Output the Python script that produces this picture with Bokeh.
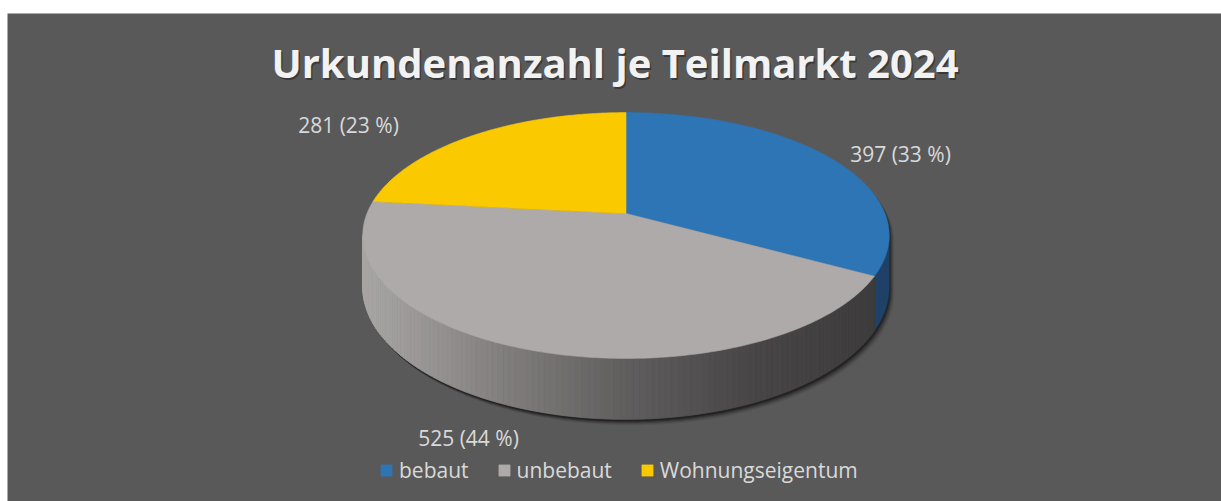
import numpy as np
from bokeh.plotting import figure
from bokeh.models import Range1d, Legend, LegendItem, ColumnDataSource
from bokeh.core.properties import value
from bokeh.embed import file_html
from bokeh.resources import INLINE

# ---------------- data ----------------
title_text = "Urkundenanzahl je Teilmarkt 2024"
categories = ["bebaut", "unbebaut", "Wohnungseigentum"]
counts = [397, 525, 281]

# ---------------- style ----------------
top_colors = ["#2e75b6", "#aeaaaa", "#fbc900"]
blue_side = "#1f4167"
bg = "#595959"
text_col = "#d9d9d9"
FONT = "Open Sans"

# geometry of the 3D pie (screen pixels, y downwards)
CX, CY = 625.5, 213.0   # pie centre on top face
A, B = 259.0, 119.0     # radii
K = -0.179              # perspective factor
DEPTH = 50.0            # thickness

# label anchor positions (screen pixels)
label_pos = [(900, 153), (468, 437), (348, 124)]

# gradient stops for the front wall of the grey slice (x, rgb)
grad_x = [370, 500, 625, 750, 860]
grad_rgb = [(168, 166, 165), (130, 127, 126), (96, 94, 94), (72, 70, 70), (63, 61, 62)]

W, H = 1221, 501
p = figure(width=W, height=H, output_backend="svg", toolbar_location=None,
           x_range=Range1d(7, 1221), y_range=Range1d(501, 13),
           x_axis_location=None, y_axis_location=None,
           background_fill_color=bg, border_fill_color="white",
           min_border_top=13, min_border_left=7, min_border_right=0,
           min_border_bottom=0, outline_line_color=None)
p.grid.visible = False


def top_pt(theta):
    t = np.radians(theta)
    u, v = np.sin(t), -np.cos(t)
    den = 1 + K * v
    return CX + A * u / den, CY + B * v / den


def bot_pt(theta):
    t = np.radians(theta)
    u, v = np.sin(t), -np.cos(t)
    den = 1 + K * v
    return CX + A * u / den, CY + (B * v + DEPTH) / den


total = float(sum(counts))
bounds = np.concatenate([[0.0], np.cumsum(counts) / total * 360.0])
sil1 = np.degrees(np.arccos(K))          # right silhouette (~100 deg)
sil2 = 360.0 - sil1                      # left silhouette (~260 deg)

# ---- shadow ----
th_top = np.linspace(sil2, sil1 + 360.0, 200)
th_bot = np.linspace(sil1, sil2, 200)
sx = np.concatenate([top_pt(th_top)[0], bot_pt(th_bot)[0]])
sy = np.concatenate([top_pt(th_top)[1], bot_pt(th_bot)[1]])
for dx, dy, al in [(5, 6, 0.06), (4, 5, 0.1), (3, 4, 0.15), (2, 3, 0.22), (1, 2, 0.3)]:
    p.patch(sx + dx, sy + dy, fill_color="black", fill_alpha=al, line_color=None)

# ---- side walls ----
# bebaut (blue) visible part
a0, a1 = sil1, bounds[1]
th = np.linspace(a0, a1, 40)
tx, ty = top_pt(th)
bx, by = bot_pt(th[::-1])
p.patch(np.concatenate([tx, bx]), np.concatenate([ty, by]),
        fill_color=blue_side, line_color=blue_side, line_width=0.5)

# unbebaut (grey, gradient)
a0, a1 = bounds[1], sil2
edges = np.linspace(a0, a1, 121)
xs, ys, cols = [], [], []
for i in range(len(edges) - 1):
    t0, t1 = edges[i], edges[i + 1]
    x0t, y0t = top_pt(t0)
    x1t, y1t = top_pt(t1)
    x0b, y0b = bot_pt(t0)
    x1b, y1b = bot_pt(t1)
    xs.append([x0t, x1t, x1b, x0b])
    ys.append([y0t, y1t, y1b, y0b])
    xm = (x0t + x1t) / 2
    rgb = [int(round(np.interp(xm, grad_x, [c[j] for c in grad_rgb]))) for j in range(3)]
    cols.append("#%02x%02x%02x" % tuple(rgb))
p.patches(xs, ys, fill_color=cols, line_color=cols, line_width=0.8)
# thin divider between blue and grey wall
xd0, yd0 = top_pt(bounds[1])
xd1, yd1 = bot_pt(bounds[1])
p.line([xd0, xd1], [yd0, yd1], line_color="#3a3838", line_width=1)

# ---- top faces ----
renderers = []
for i, cat in enumerate(categories):
    th = np.linspace(bounds[i], bounds[i + 1], 150)
    ax, ay = top_pt(th)
    r = p.patch(np.concatenate([[CX], ax]), np.concatenate([[CY], ay]),
                fill_color=top_colors[i], line_color=top_colors[i], line_width=0.6)
    renderers.append(r)

# ---- data labels ----
labels = ["%d (%d %%)" % (c, int(round(100 * c / total))) for c in counts]
src = ColumnDataSource(dict(x=[q[0] for q in label_pos], y=[q[1] for q in label_pos], t=labels))
p.text("x", "y", text="t", source=src, text_font=value(FONT), text_font_size="21px",
       text_color=text_col, text_align="center", text_baseline="middle")

# ---- title ----
p.text([614.5 + 1.5], [62 + 2], text=[title_text], text_font=value(FONT),
       text_font_size="40px", text_font_style="bold", text_color="black", text_alpha=0.35,
       text_align="center", text_baseline="middle")
p.text([614.5], [62], text=[title_text], text_font=value(FONT),
       text_font_size="40px", text_font_style="bold", text_color="#f2f2f2",
       text_align="center", text_baseline="middle")

# ---- legend ----
legend = Legend(items=[LegendItem(label=c, renderers=[r]) for c, r in zip(categories, renderers)],
                orientation="horizontal", location=(372, 17),
                label_text_font=FONT, label_text_font_size="21px", label_text_color=text_col,
                glyph_width=14, glyph_height=14, label_standoff=6, spacing=28,
                padding=0, margin=0, border_line_alpha=0, background_fill_alpha=0,
                label_height=20)
p.add_layout(legend, "center")

open("out.html", "w").write(file_html(p, INLINE))
